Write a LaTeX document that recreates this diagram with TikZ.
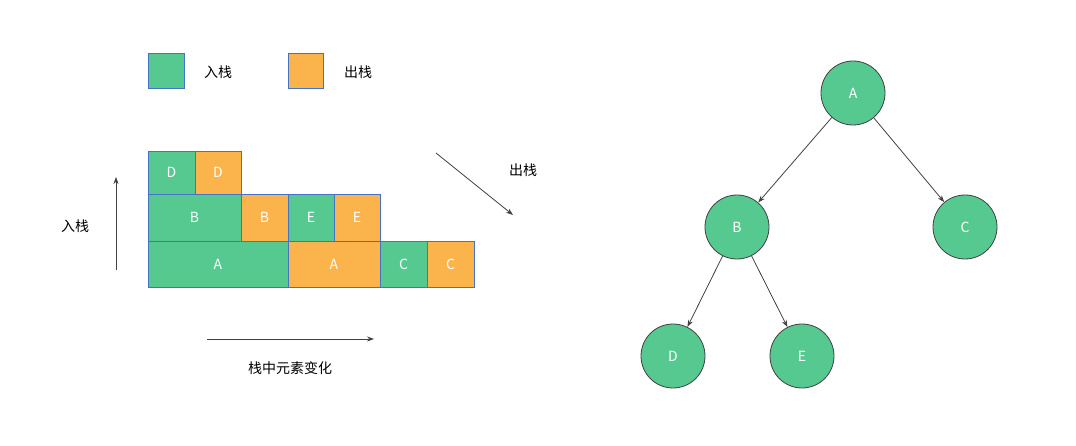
\documentclass[tikz,border=0pt]{standalone}
\usepackage{fontspec}
\setmainfont{Noto Sans CJK SC}
\usetikzlibrary{arrows.meta}
\definecolor{pushc}{HTML}{55C98F}
\definecolor{popc}{HTML}{FBB44C}
\definecolor{edgec}{HTML}{4472C4}
\definecolor{linec}{HTML}{404040}
\tikzset{
  blk/.style={draw=edgec, line width=0.6pt, text=white, font=\fontsize{14}{14}\selectfont},
  tnode/.style={circle, draw=linec, line width=0.8pt, fill=pushc, minimum size=64pt, inner sep=0pt, text=white, font=\fontsize{14}{14}\selectfont},
  lbl/.style={font=\fontsize{14}{14}\selectfont, text=black},
  arr/.style={-{Stealth[length=7pt,width=5pt]}, linec, line width=0.8pt}
}
\begin{document}
\begin{tikzpicture}[x=1pt,y=-1pt]
      \useasboundingbox (0,0) rectangle (1076,446);
      % Legende
      \fill[pushc, draw=edgec] (148,53) rectangle (184,88);
      \node[lbl] (lpush) at (218,72) {入栈};
      \fill[popc, draw=edgec] (288,53) rectangle (323,88);
      \node[lbl] (lpop) at (358,72) {出栈};

      % Bloques de la pila
      \draw[blk, fill=pushc] (148,151) rectangle node {D} (195,194);
      \draw[blk, fill=popc] (195,151) rectangle node {D} (241,194);
      \draw[blk, fill=pushc] (148,194) rectangle node {B} (241,241);
      \draw[blk, fill=popc] (241,194) rectangle node {B} (288,241);
      \draw[blk, fill=pushc] (288,194) rectangle node {E} (334,241);
      \draw[blk, fill=popc] (334,194) rectangle node {E} (380,241);
      \draw[blk, fill=pushc] (148,241) rectangle node {A} (288,287);
      \draw[blk, fill=popc] (288,241) rectangle node {A} (380,287);
      \draw[blk, fill=pushc] (380,241) rectangle node {C} (427,287);
      \draw[blk, fill=popc] (427,241) rectangle node {C} (474,287);

      % Flechas y etiquetas
      \coordinate (up0) at (116,270);
      \coordinate (up1) at (116,177);
      \draw[arr] (up0) -- (up1);
      \node[lbl] (tpush) at (75,226) {入栈};
      \coordinate (rt0) at (207,339);
      \coordinate (rt1) at (374,339);
      \draw[arr] (rt0) -- (rt1);
      \node[lbl] (tchange) at (290,368) {栈中元素变化};
      \coordinate (dg0) at (436,153);
      \coordinate (dg1) at (513,215);
      \draw[arr] (dg0) -- (dg1);
      \node[lbl] (tpop) at (523,170) {出栈};

      % Arbol
      \node[tnode] (A) at (853,93) {A};
      \node[tnode] (B) at (737,227) {B};
      \node[tnode] (C) at (965,227) {C};
      \node[tnode] (D) at (673,356) {D};
      \node[tnode] (E) at (802,356) {E};
      \draw[arr] (A) -- (B);
      \draw[arr] (A) -- (C);
      \draw[arr] (B) -- (D);
      \draw[arr] (B) -- (E);
    \end{tikzpicture}
\end{document}
